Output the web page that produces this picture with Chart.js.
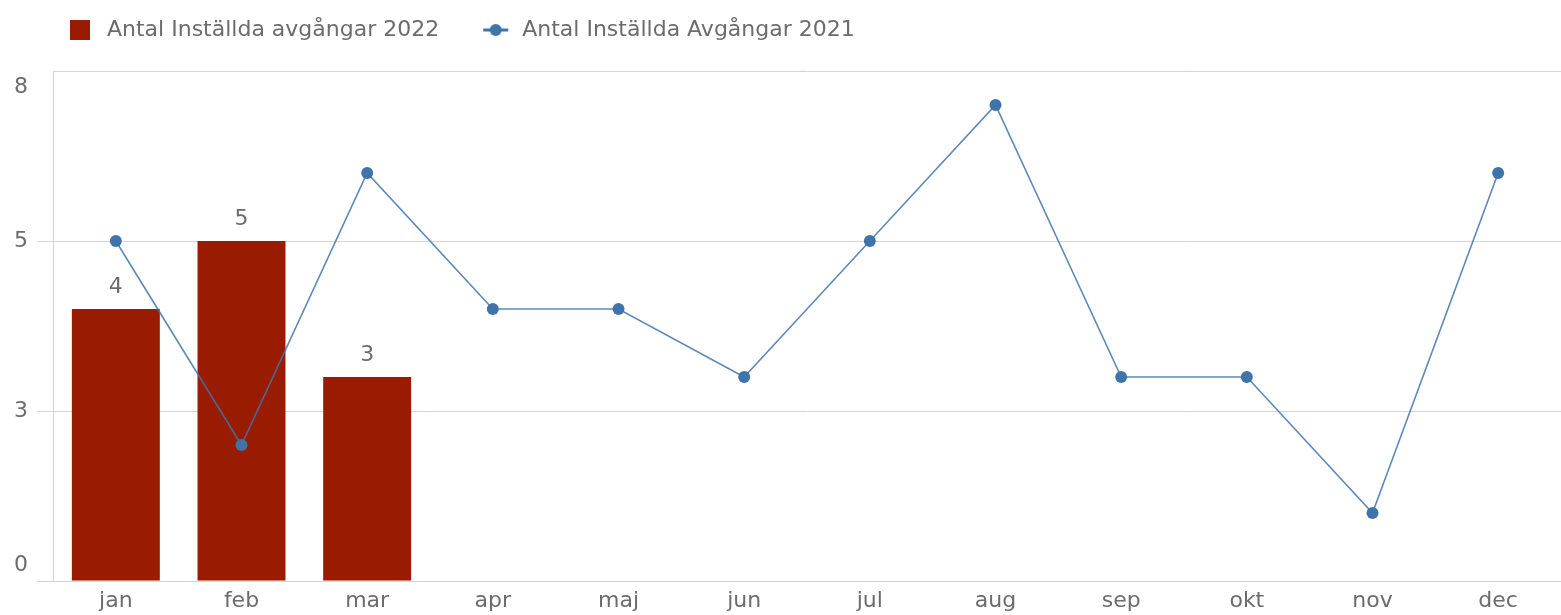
<!DOCTYPE html>
<html>
<head>
<meta charset="utf-8">
<script src="https://cdn.jsdelivr.net/npm/chart.js@4.4.1/dist/chart.umd.min.js"></script>
<style>
  body { margin: 0; background: #fff; }
  #wrap { width: 1561px; height: 615px; }
</style>
</head>
<body>
<div id="wrap"><canvas id="avgChart" width="1561" height="615"></canvas></div>
<script>
// data
var months = ['jan', 'feb', 'mar', 'apr', 'maj', 'jun', 'jul', 'aug', 'sep', 'okt', 'nov', 'dec'];
var cancelled2022 = [4, 5, 3, null, null, null, null, null, null, null, null, null];
var cancelled2021 = [5, 2, 6, 4, 4, 3, 5, 7, 3, 3, 1, 6];
var yTickValues = [0, 2.5, 5, 7.5];

var label2022 = 'Antal Inställda avgångar 2022';
var label2021 = 'Antal Inställda Avgångar 2021';

var red = '#991c00';
var blue = '#3f74ab';
var lineBlue = 'rgba(63,116,171,0.85)';
var textGray = '#6c6c6c';
var gridGray = '#d4d4d4';
var fontFamily = '"DejaVu Sans", sans-serif';

// legend icons (box width 53)
function squareIcon() {
    var c = document.createElement('canvas');
    c.width = 53; c.height = 22;
    var g = c.getContext('2d');
    g.fillStyle = red;
    g.fillRect(27, 1, 20, 20);
    return c;
}
function lineDotIcon() {
    var c = document.createElement('canvas');
    c.width = 53; c.height = 22;
    var g = c.getContext('2d');
    g.strokeStyle = blue;
    g.lineWidth = 3;
    g.beginPath(); g.moveTo(25, 11); g.lineTo(50, 11); g.stroke();
    g.fillStyle = blue;
    g.beginPath(); g.arc(37.5, 11, 6, 0, Math.PI * 2); g.fill();
    return c;
}
var legendIcons = [squareIcon(), lineDotIcon()];

// value labels above bars + custom placed y tick labels
var labelsPlugin = {
    id: 'qlikLabels',
    afterDatasetsDraw: function(chart) {
        var ctx = chart.ctx;
        ctx.save();
        ctx.font = '22px ' + fontFamily;
        ctx.fillStyle = textGray;
        ctx.textAlign = 'center';
        ctx.textBaseline = 'middle';
        var meta = chart.getDatasetMeta(0);
        meta.data.forEach(function(bar, i) {
            var v = cancelled2022[i];
            if (v === null) return;
            ctx.fillText(String(v), bar.x, bar.y - 22);
        });
        // y axis labels, rounded like the original
        var y = chart.scales.y;
        ctx.textAlign = 'right';
        y.ticks.forEach(function(t) {
            var py = y.getPixelForValue(t.value);
            if (t.value === y.max) py += 16;
            else if (t.value === y.min) py -= 16;
            ctx.fillText(String(Math.round(t.value)), 28, py);
        });
        ctx.restore();
    }
};

var ctx = document.getElementById('avgChart').getContext('2d');
var avgChart = new Chart(ctx, {
    type: 'bar',
    data: {
        labels: months,
        datasets: [{
            type: 'bar',
            label: label2022,
            data: cancelled2022,
            backgroundColor: red,
            barPercentage: 0.7,
            categoryPercentage: 1,
            order: 1
        }, {
            type: 'line',
            label: label2021,
            data: cancelled2021,
            borderColor: lineBlue,
            borderWidth: 1.6,
            pointRadius: 6,
            pointBorderWidth: 0,
            pointBackgroundColor: blue,
            tension: 0,
            order: 0
        }]
    },
    options: {
        responsive: false,
        animation: false,
        layout: { autoPadding: false, padding: { left: 24, right: 0, top: 0, bottom: 0 } },
        plugins: {
            tooltip: { enabled: false },
            legend: {
                position: 'top',
                align: 'start',
                labels: {
                    usePointStyle: true,
                    pointStyleWidth: 53,
                    padding: 19,
                    color: textGray,
                    font: { family: fontFamily, size: 22 },
                    generateLabels: function(chart) {
                        var items = Chart.defaults.plugins.legend.labels.generateLabels(chart);
                        items.sort(function(a, b) { return a.datasetIndex - b.datasetIndex; });
                        items.forEach(function(it) {
                            it.pointStyle = legendIcons[it.datasetIndex];
                            it.fontColor = textGray;
                        });
                        return items;
                    }
                }
            },
            subtitle: {
                display: true,
                text: ' ',
                position: 'top',
                weight: 500,
                padding: 0,
                font: { size: 20, lineHeight: 1 }
            }
        },
        scales: {
            x: {
                grid: { display: false, drawTicks: false },
                border: { color: gridGray, width: 1 },
                ticks: {
                    color: textGray,
                    font: { family: fontFamily, size: 22 },
                    padding: 7,
                    maxRotation: 0,
                    autoSkip: false
                },
                afterFit: function(scale) { scale.height = 34; }
            },
            y: {
                min: 0,
                max: 7.5,
                afterBuildTicks: function(scale) {
                    scale.ticks = yTickValues.map(function(v) { return { value: v }; });
                },
                grid: {
                    color: gridGray,
                    tickLength: 16,
                    tickColor: function(c) {
                        return c.tick && c.tick.value === 7.5 ? 'rgba(0,0,0,0)' : gridGray;
                    }
                },
                border: { color: gridGray, width: 1 },
                ticks: { display: false },
                afterFit: function(scale) { scale.width = 29; }
            }
        }
    },
    plugins: [labelsPlugin]
});
</script>
</body>
</html>
